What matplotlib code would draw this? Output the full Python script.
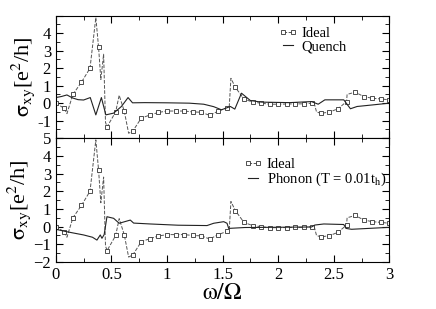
import numpy as np
import matplotlib
matplotlib.use('Agg')
import matplotlib.pyplot as plt
from matplotlib.ticker import MultipleLocator
from matplotlib.lines import Line2D

plt.rcParams['font.family'] = 'Liberation Serif'
plt.rcParams['mathtext.fontset'] = 'stix'

# Ideal: marker points (evenly spaced) + extra points of the dashed curve
ideal_mark_x = np.linspace(0, 3, 40)
ideal_mark_y = [0.0, -0.3, 0.5, 1.2, 2.0, 3.2, -1.35, -0.5, -0.45, -1.6,
                -0.85, -0.68, -0.53, -0.45, -0.45, -0.45, -0.5, -0.52, -0.7, -0.45,
                -0.27, 0.9, 0.24, 0.06, 0.0, -0.06, -0.06, -0.05, -0.04, -0.04,
                0.0, -0.58, -0.51, -0.32, 0.09, 0.63, 0.38, 0.28, 0.24, 0.19]
ideal_extra_x = [0.10, 0.36, 0.405, 0.43, 0.447, 0.57, 0.655, 1.56, 1.575, 2.325, 2.345, 2.62]
ideal_extra_y = [-0.6, 4.9, 1.35, 2.8, -1.1, 0.45, -1.72, -0.2, 1.42, -0.02, -0.5, 0.5]

# Quench (top panel, solid)
quench_x = [0, 0.05, 0.1, 0.15, 0.2, 0.25, 0.28, 0.31, 0.36, 0.41, 0.45, 0.52, 0.59,
            0.65, 0.69, 0.8, 1.0, 1.2, 1.33, 1.42, 1.49, 1.57, 1.61, 1.67, 1.75, 1.85,
            2.1, 2.3, 2.36, 2.42, 2.59, 2.65, 2.71, 2.85, 3.0]
quench_y = [0.32, 0.38, 0.47, 0.3, 0.2, 0.18, 0.25, 0.32, -0.67, 0.32, -0.67, -0.57, -0.19,
            0.32, 0.02, 0.03, 0.02, 0.0, -0.06, -0.2, -0.38, -0.19, -0.34, 0.57, 0.15, 0.06,
            0.03, 0.09, -0.06, 0.19, 0.19, -0.32, -0.19, -0.1, 0.0]

# Phonon (bottom panel, solid)
phonon_x = [0, 0.1, 0.25, 0.33, 0.37, 0.40, 0.415, 0.435, 0.46, 0.52, 0.57, 0.62, 0.67,
            0.7, 0.85, 1.1, 1.36, 1.42, 1.51, 1.54, 1.555, 1.7, 2.3, 2.33, 2.41, 2.59,
            2.61, 2.66, 3.0]
phonon_y = [-0.15, -0.29, -0.47, -0.6, -0.76, -0.47, -0.66, -0.45, 0.56, 0.47, 0.19, 0.28,
            0.37, 0.2, 0.15, 0.08, 0.06, 0.19, 0.28, 0.19, -0.1, -0.05, -0.02, 0.09, 0.15,
            0.12, -0.1, -0.15, -0.04]

# merge ideal curve, remember where the markers are
ix = np.concatenate([ideal_mark_x, ideal_extra_x])
iy = np.concatenate([ideal_mark_y, ideal_extra_y])
order = np.argsort(ix, kind='stable')
ix, iy = ix[order], iy[order]
mark_idx = [i for i, o in enumerate(order) if o < len(ideal_mark_x)]

ideal_style = dict(ls='--', color='#555555', lw=0.7, marker='s', ms=3,
                   mfc='white', mec='#333333', mew=0.6)

fig = plt.figure(figsize=(4.36, 3.09), dpi=100)
ax1 = fig.add_axes([0.128, 0.553, 0.765, 0.396])
ax2 = fig.add_axes([0.128, 0.152, 0.765, 0.401])

for ax, sx, sy, lab in [(ax1, quench_x, quench_y, 'Quench'),
                        (ax2, phonon_x, phonon_y, r'Phonon (T = 0.01t$_\mathrm{h}$)')]:
    ax.plot(ix, iy, markevery=mark_idx, **ideal_style)
    ax.plot(sx, sy, '-', color='#222222', lw=0.8)
    ax.set_xlim(0, 3)
    ax.set_ylim(-2, 5)
    ax.xaxis.set_major_locator(MultipleLocator(0.5))
    ax.xaxis.set_minor_locator(MultipleLocator(0.25))
    ax.yaxis.set_major_locator(MultipleLocator(1))
    ax.yaxis.set_minor_locator(MultipleLocator(0.5))
    ax.tick_params(which='both', direction='in', top=True, right=True, labelsize=12)
    ax.tick_params(which='major', length=5)
    ax.tick_params(which='minor', length=3)
    ax.set_ylabel(r'$\mathrm{\sigma}_{\mathrm{xy}}$[e$^2$/h]', fontsize=16, labelpad=0)

    handles = [Line2D([], [], **ideal_style),
               Line2D([], [], color='#222222', lw=0.8)]
    ax.legend(handles, ['Ideal', lab], numpoints=2, loc='upper left',
              bbox_to_anchor=(0.645, 0.97) if ax is ax1 else (0.54, 0.9),
              frameon=False, fontsize=10.5, handlelength=1.3, handletextpad=0.3,
              borderpad=0, labelspacing=0.0)

ax1.set_yticks(range(-2, 6))
ax1.set_yticklabels(['', '-1', '0', '1', '2', '3', '4', ''])
ax1.tick_params(labelbottom=False)
ax2.set_xticks([0, 0.5, 1, 1.5, 2, 2.5, 3])
ax2.set_xticklabels(['0', '0.5', '1', '1.5', '2', '2.5', '3'])
ax2.set_xlabel(r'$\mathrm{\omega}/\mathrm{\Omega}$', fontsize=17, labelpad=0)

fig.savefig('out.png', dpi=100)
